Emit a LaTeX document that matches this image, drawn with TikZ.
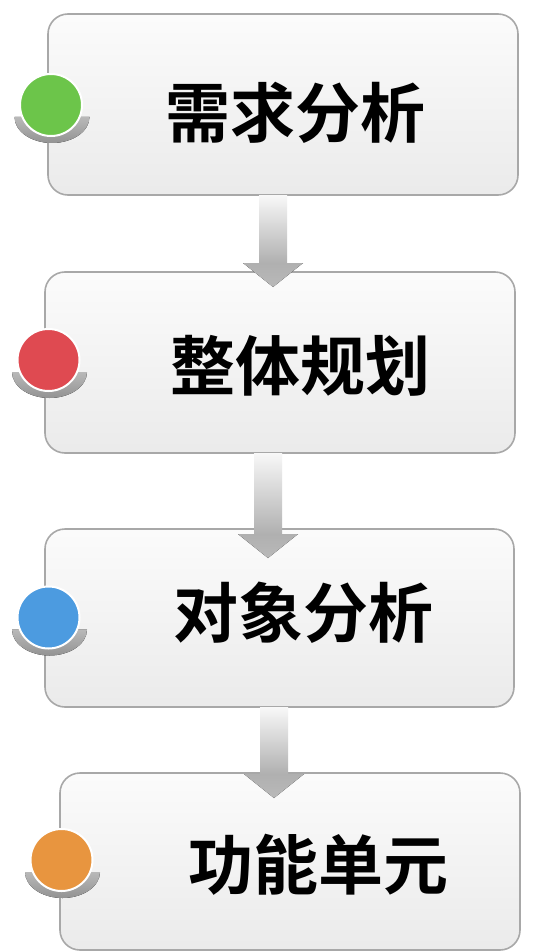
\documentclass[tikz,border=0pt]{standalone}
\usepackage{fontspec}
\newfontfamily\cjk{Noto Sans CJK SC}[BoldFont={Noto Sans CJK SC Bold}]
\definecolor{cgreen}{HTML}{6CC54A}
\definecolor{cred}{HTML}{DF4A51}
\definecolor{cblue}{HTML}{4C9BE0}
\definecolor{corange}{HTML}{E8953F}
\definecolor{boxline}{HTML}{A8A8A8}
\tikzset{
  stagebox/.style={draw=boxline, line width=1.6pt, rounded corners=20pt,
    top color=white!97!gray, bottom color=gray!16, inner sep=0pt},
  stagetext/.style={font=\cjk\bfseries\fontsize{65}{65}\selectfont, inner sep=0pt, text=black},
  dot/.style={circle, draw=white, line width=2pt, minimum size=62pt, inner sep=0pt},
  dotshadow/.style={top color=gray!55, bottom color=gray!85, draw=none},
  flowarrow/.style={top color=gray!6, bottom color=gray!62, draw=none},
  flowhead/.style={top color=gray!62, bottom color=gray!55, draw=none}
}
\begin{document}
\begin{tikzpicture}[x=1pt,y=-1pt]
\useasboundingbox[fill=white] (0,0) rectangle (536,952);
% boxes
\node[stagebox, minimum width=470pt, minimum height=181pt] (b1) at (283,104.5) {};
\node[stagebox, minimum width=470pt, minimum height=181pt] (b2) at (280,362.5) {};
\node[stagebox, minimum width=469pt, minimum height=178pt] (b3) at (279.5,618) {};
\node[stagebox, minimum width=460pt, minimum height=177pt] (b4) at (290,861.5) {};
% texts
\node[stagetext] (t1) at (295,113) {需求分析};
\node[stagetext] (t2) at (300,366) {整体规划};
\node[stagetext] (t3) at (303,613) {对象分析};
\node[stagetext] (t4) at (318,865) {功能单元};
% arrows (shaft from box bottom, head onto next box)
\coordinate (a1) at (b1.south -| 273,0);
\coordinate (a2) at (b2.south -| 268,0);
\coordinate (a3) at (b3.south -| 274,0);
\coordinate (h1) at (273,287);
\coordinate (h2) at (268,558);
\coordinate (h3) at (274,798);
\foreach \s/\h in {a1/h1, a2/h2, a3/h3}{
  \fill[flowarrow] ([xshift=-14pt]\s) rectangle ([xshift=14pt,yshift=24pt]\h);
  \fill[flowhead] ([xshift=-30pt,yshift=24pt]\h) -- ([xshift=30pt,yshift=24pt]\h) -- (\h) -- cycle;
}
% dots with shadows
\foreach \n/\cx/\cy/\col in {c1/51/105/cgreen, c2/48.5/360/cred, c3/48.5/617.5/cblue, c4/61.5/860/corange}{
  \fill[dotshadow] (\cx-36.5,\cy+12) arc[start angle=180, end angle=360, x radius=37.5pt, y radius=26pt] -- cycle;
  \node[dot, fill=\col] (\n) at (\cx,\cy) {};
}
\end{tikzpicture}
\end{document}
